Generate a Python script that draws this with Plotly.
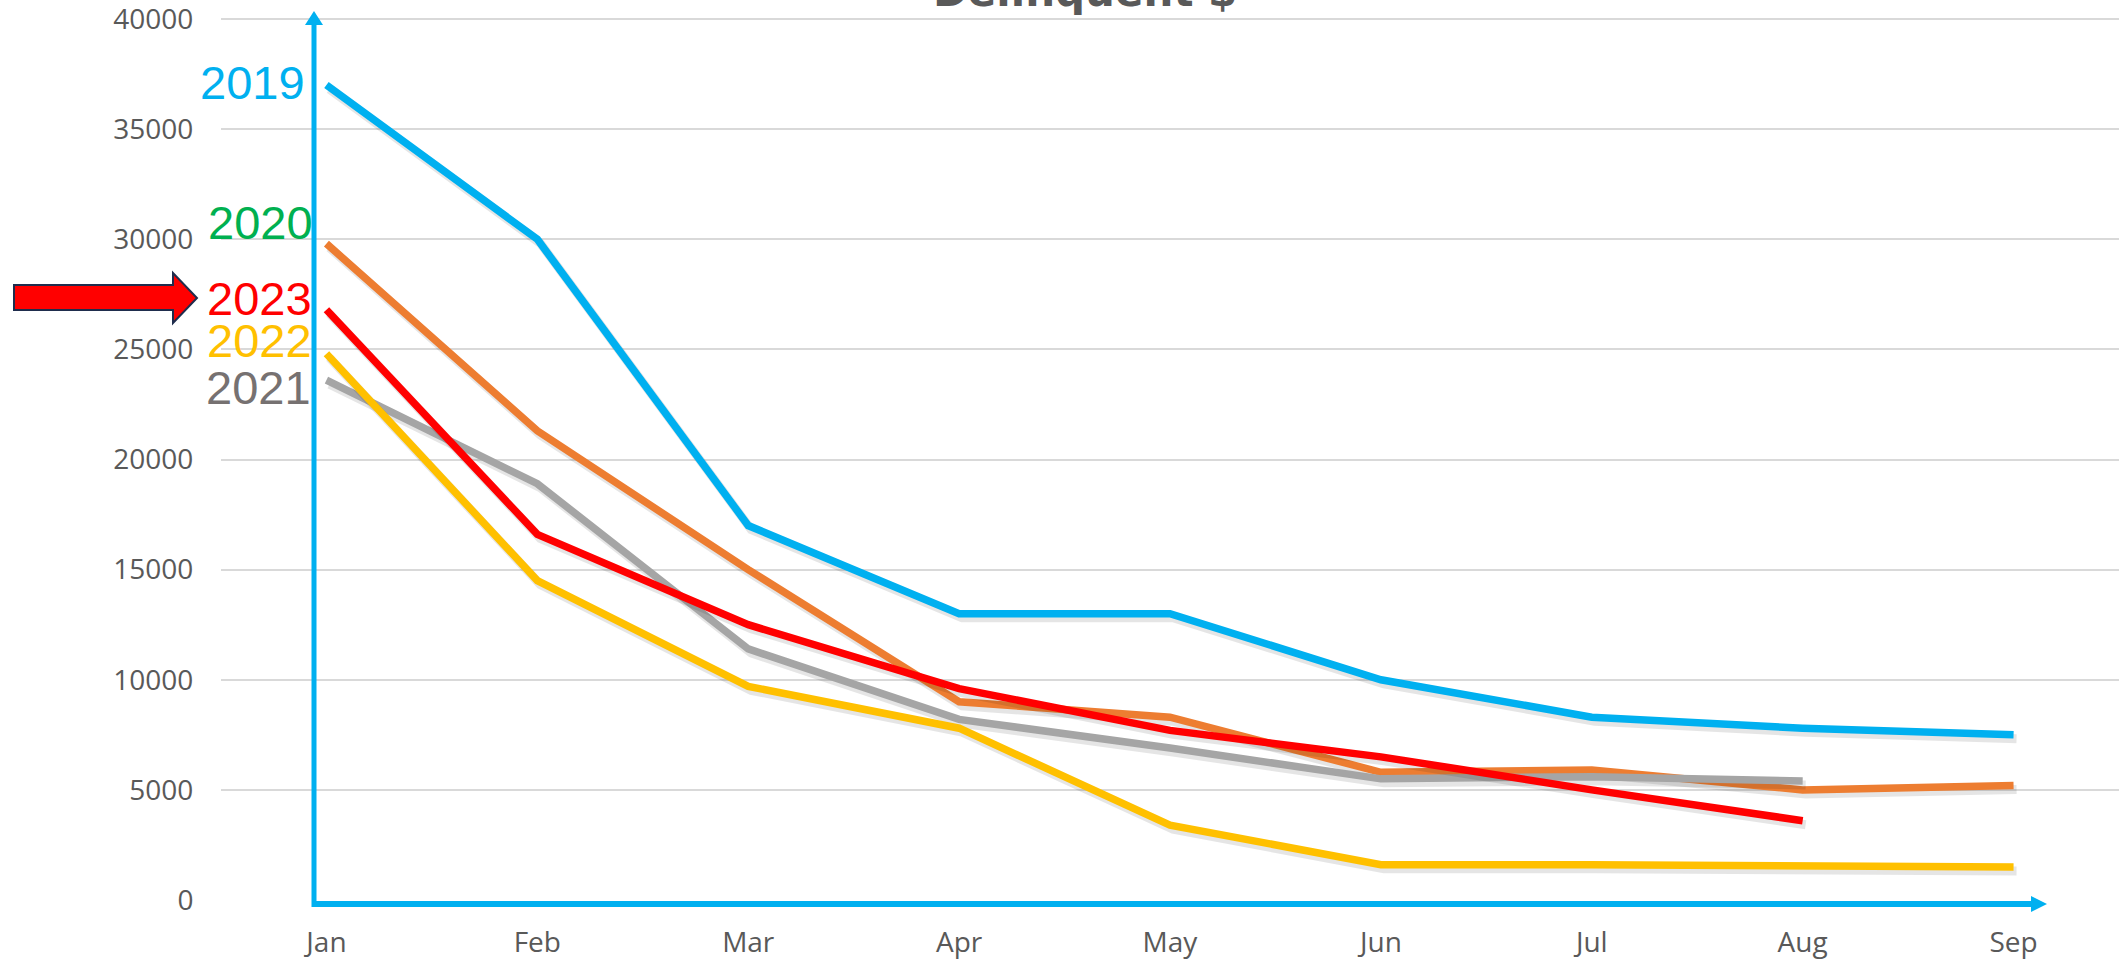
import plotly.graph_objects as go

months = ["Jan", "Feb", "Mar", "Apr", "May", "Jun", "Jul", "Aug", "Sep"]
y2019 = [37000, 30000, 17000, 13000, 13000, 10000, 8300, 7800, 7500]
y2020 = [29800, 21300, 15000, 9000, 8300, 5800, 5900, 5000, 5200]
y2021 = [23600, 18900, 11400, 8200, 6900, 5500, 5600, 5400]
y2022 = [24800, 14500, 9700, 7800, 3400, 1600, 1600, 1550, 1500]
y2023 = [26800, 16600, 12500, 9600, 7700, 6500, 5000, 3600]
y_ticks = [0, 5000, 10000, 15000, 20000, 25000, 30000, 35000, 40000]

W, H = 2123, 961
L, R, T, B = 221, 4, 11, 61
PW, PH = W - L - R, H - T - B
YMAX = 40000 * PH / 881.0


def px(x):
    """page x pixel -> paper x"""
    return (x - L) / PW


def py(y):
    """page y pixel -> paper y"""
    return (H - B - y) / PH


series = [
    ("2019", y2019, "#00B0F0"),
    ("2020", y2020, "#ED7D31"),
    ("2021", y2021, "#A5A5A5"),
    ("2022", y2022, "#FFC000"),
    ("2023", y2023, "#FF0000"),
]

dx = 3 * 9 / PW
dy = 4 * YMAX / PH

fig = go.Figure()
for name, vals, col in series:
    xs = list(range(len(vals)))
    fig.add_trace(go.Scatter(
        x=[v + dx for v in xs], y=[v - dy for v in vals], mode="lines",
        line=dict(color="rgba(0,0,0,0.10)", width=9), showlegend=False,
        hoverinfo="skip"))
    fig.add_trace(go.Scatter(
        x=xs, y=vals, mode="lines", name=name,
        line=dict(color=col, width=7.5), showlegend=False, hoverinfo="skip"))

axis_blue = "#00B0F0"
shapes = [
    dict(type="line", xref="paper", yref="paper", x0=px(314), x1=px(314),
         y0=py(907), y1=py(24), line=dict(color=axis_blue, width=5)),
    dict(type="path", xref="paper", yref="paper",
         path=f"M {px(305)} {py(25)} L {px(323)} {py(25)} L {px(314)} {py(11)} Z",
         fillcolor=axis_blue, line=dict(color=axis_blue, width=0)),
    dict(type="line", xref="paper", yref="paper", x0=px(312), x1=px(2032),
         y0=py(904), y1=py(904), line=dict(color=axis_blue, width=6)),
    dict(type="path", xref="paper", yref="paper",
         path=f"M {px(2031)} {py(896)} L {px(2031)} {py(912)} L {px(2047)} {py(904)} Z",
         fillcolor=axis_blue, line=dict(color=axis_blue, width=0)),
    dict(type="path", xref="paper", yref="paper",
         path=(f"M {px(14)} {py(285)} L {px(173)} {py(285)} L {px(173)} {py(273)} "
               f"L {px(197)} {py(298)} L {px(173)} {py(323)} L {px(173)} {py(310)} "
               f"L {px(14)} {py(310)} Z"),
         fillcolor="#FF0000", line=dict(color="#1F2D4D", width=2)),
]

labels = [
    ("2019", "#00B0F0", 307, 82),
    ("2020", "#00B050", 315, 222),
    ("2023", "#FF0000", 314, 299),
    ("2022", "#FFC000", 314, 340),
    ("2021", "#767171", 313, 387),
]
annotations = []
for txt, col, xr, yc in labels:
    annotations.append(dict(
        text=txt, xref="paper", yref="paper", x=px(xr), y=py(yc),
        xanchor="right", yanchor="middle", showarrow=False,
        font=dict(family="Liberation Sans", size=47, color=col)))

annotations.append(dict(
    text="<b>Delinquent $</b>", xref="paper", yref="paper",
    x=px(1085), y=py(-9), xanchor="center", yanchor="middle", showarrow=False,
    font=dict(family="DejaVu Sans", size=42, color="#595959")))

fig.update_layout(
    width=W, height=H,
    margin=dict(l=L, r=R, t=T, b=B, pad=0, autoexpand=False),
    paper_bgcolor="white", plot_bgcolor="white",
    shapes=shapes, annotations=annotations,
    xaxis=dict(range=[-0.5, 8.5], tickvals=list(range(len(months))), ticktext=months,
               showgrid=False, zeroline=False, showline=False, automargin=False,
               ticks="outside", ticklen=17, tickcolor="rgba(0,0,0,0)",
               tickfont=dict(family="Open Sans", size=28, color="#595959")),
    yaxis=dict(range=[0, YMAX], tickvals=y_ticks, ticktext=[str(v) for v in y_ticks],
               showgrid=True, gridcolor="#D9D9D9", gridwidth=2, zeroline=False,
               showline=False, automargin=False, ticklabeloverflow="allow",
               ticks="outside", ticklen=21, tickcolor="rgba(0,0,0,0)",
               tickfont=dict(family="Open Sans", size=28, color="#595959")),
)

fig.write_html(
    "out.html",
    config={"displayModeBar": False},
    post_script="document.body.style.margin='0';document.body.style.overflow='hidden';",
)
